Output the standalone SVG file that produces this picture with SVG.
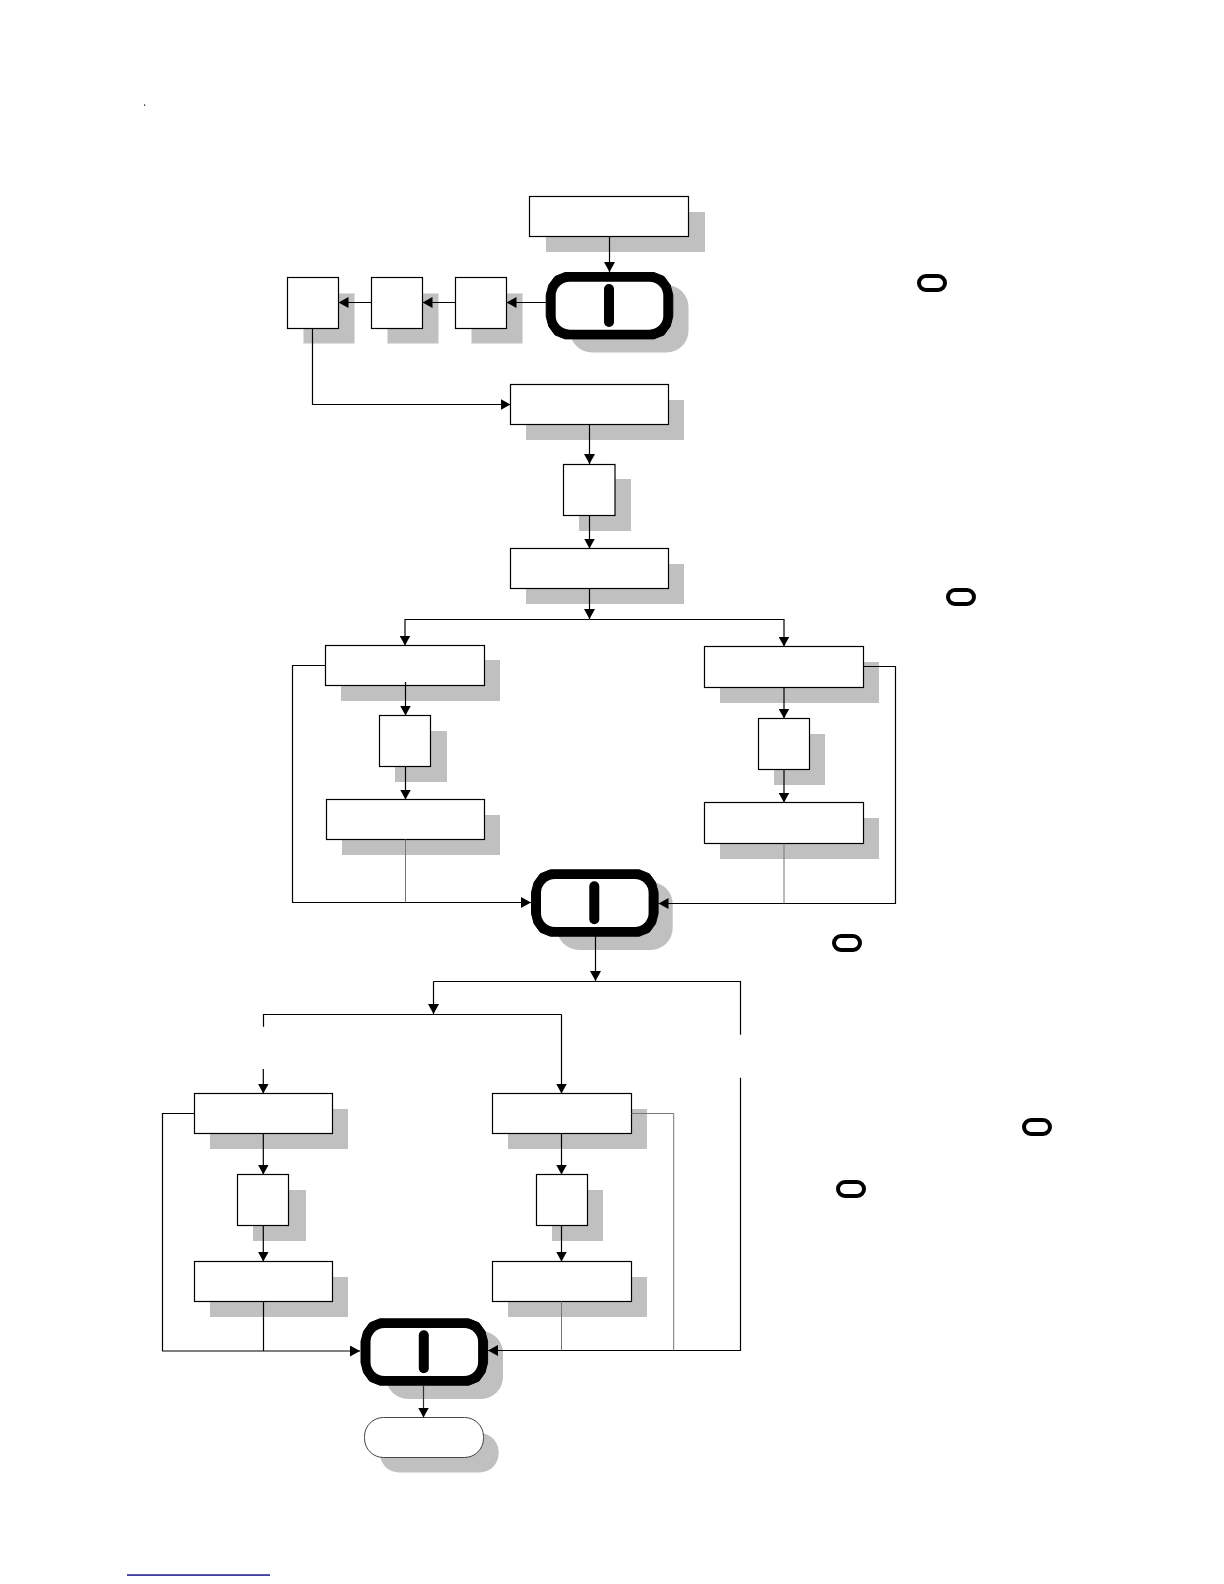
<svg xmlns="http://www.w3.org/2000/svg" width="1224" height="1584" viewBox="0 0 1224 1584">
<style>
.b{fill:#fff;stroke:#000;stroke-width:1.2}
.s{fill:#c0c0c0;stroke:none}
.c{fill:none;stroke:#000;stroke-width:1.2}
.g{fill:none;stroke:#777;stroke-width:1}
.m{fill:#000}
.a{fill:none;stroke:#000;stroke-width:4}
</style>
<defs>
<marker id="ar" markerUnits="userSpaceOnUse" markerWidth="11" markerHeight="11" refX="10" refY="5.500" orient="auto"><path d="M0 0L10 5.500L0 11Z" fill="#000"/></marker>
<g id="pill">
<path fill="#000" stroke="#000" stroke-linejoin="round" d="M19.300 0.500H108.300L118.300 4.500L124.500 13L127.100 23V44.400L124.500 54.400L118.300 62.900L108.300 66.900H19.300L9.300 62.900L3.100 54.400L0.500 44.400V23L3.100 13L9.300 4.500Z"/>
<rect x="10" y="9.700" width="107.600" height="48" rx="14" fill="#fff"/>
<rect x="58.300" y="12" width="10" height="43" rx="5" fill="#000"/>
</g>
</defs>
<rect id="page-line" x="127" y="1574.300" width="143" height="1.500" fill="#14148c"/>
<rect id="dot" x="144" y="104.500" width="1.200" height="1.200" fill="#000"/>
<g id="n1"><rect class="s" x="546" y="212" width="159" height="40"/><rect class="b" x="529.500" y="196.500" width="159" height="40"/></g>
<g id="p1"><rect class="s" x="570" y="285" width="118.500" height="67.500" rx="22"/><use href="#pill" x="545.700" y="272"/></g>
<g id="n2"><rect class="s" x="471.500" y="293.500" width="51" height="50"/><rect class="b" x="455.500" y="277.500" width="51" height="51"/></g>
<g id="n3"><rect class="s" x="387.500" y="293.500" width="51" height="50"/><rect class="b" x="371.500" y="277.500" width="51" height="51"/></g>
<g id="n4"><rect class="s" x="303.500" y="293.500" width="51" height="50"/><rect class="b" x="287.500" y="277.500" width="51" height="51"/></g>
<g id="n5"><rect class="s" x="526" y="400" width="158" height="40"/><rect class="b" x="510.500" y="384.500" width="158" height="40"/></g>
<g id="n6"><rect class="s" x="579" y="479" width="52" height="52"/><rect class="b" x="563.500" y="464.500" width="51.500" height="51"/></g>
<g id="n7"><rect class="s" x="526" y="564" width="158" height="40"/><rect class="b" x="510.500" y="548.500" width="158" height="40"/></g>
<g id="n8"><rect class="s" x="341" y="660" width="159" height="41"/><rect class="b" x="325.500" y="645.500" width="159" height="40"/></g>
<g id="n9"><rect class="s" x="395" y="731" width="52" height="51"/><rect class="b" x="379.500" y="715.500" width="51" height="51"/></g>
<g id="n10"><rect class="s" x="342" y="815" width="158" height="40"/><rect class="b" x="326.500" y="799.500" width="158" height="40"/></g>
<g id="n11"><rect class="s" x="720" y="662" width="159" height="41"/><rect class="b" x="704.500" y="646.500" width="159" height="41"/></g>
<g id="n12"><rect class="s" x="774" y="734" width="51" height="51"/><rect class="b" x="758.500" y="718.500" width="51" height="51"/></g>
<g id="n13"><rect class="s" x="720" y="818" width="159" height="41"/><rect class="b" x="704.500" y="802.500" width="159" height="41"/></g>
<g id="p2"><rect class="s" x="557" y="882" width="115.700" height="68" rx="22"/><use href="#pill" x="531" y="869.300"/></g>
<g id="n14"><rect class="s" x="210" y="1109" width="138" height="40"/><rect class="b" x="194.500" y="1093.500" width="138" height="40"/></g>
<g id="n15"><rect class="s" x="253" y="1190" width="53" height="51"/><rect class="b" x="237.500" y="1174.500" width="51" height="51"/></g>
<g id="n16"><rect class="s" x="210" y="1277" width="138" height="40"/><rect class="b" x="194.500" y="1261.500" width="138" height="40"/></g>
<g id="n17"><rect class="s" x="508" y="1109" width="139" height="40"/><rect class="b" x="492.500" y="1093.500" width="139" height="40"/></g>
<g id="n18"><rect class="s" x="552" y="1190" width="51" height="51"/><rect class="b" x="536.500" y="1174.500" width="51" height="51"/></g>
<g id="n19"><rect class="s" x="508" y="1277" width="139" height="40"/><rect class="b" x="492.500" y="1261.500" width="139" height="40"/></g>
<g id="p3"><rect class="s" x="386" y="1331" width="117" height="68" rx="22"/><use href="#pill" x="360.500" y="1318.300"/></g>
<g id="end"><rect class="s" x="380" y="1433" width="118.600" height="39.500" rx="19"/><rect x="364.500" y="1417.500" width="119" height="40" rx="19" fill="#fff" stroke="#444" stroke-width="1"/></g>
<g id="legend"><rect class="a" x="919" y="276" width="26" height="14" rx="7"/><rect class="a" x="948" y="590" width="26" height="14" rx="7"/><rect class="a" x="834" y="936" width="26" height="14" rx="7"/><rect class="a" x="1024" y="1120" width="26" height="14" rx="7"/><rect class="a" x="838" y="1182" width="26" height="14" rx="7"/></g>
<g id="connectors">
<path class="c" marker-end="url(#ar)" d="M609.500 236.500V272"/>
<path class="c" marker-end="url(#ar)" d="M546 302.500H506.500"/>
<path class="c" marker-end="url(#ar)" d="M455.500 302.500H422.500"/>
<path class="c" marker-end="url(#ar)" d="M371.500 302.500H338.500"/>
<path class="c" marker-end="url(#ar)" d="M312.500 328.500V404.500H510.500"/>
<path class="c" marker-end="url(#ar)" d="M589.500 424.500V464"/>
<path class="c" marker-end="url(#ar)" d="M589.500 516V548.500"/>
<path class="c" marker-end="url(#ar)" d="M589.500 588.500V619"/>
<path class="c" marker-end="url(#ar)" d="M589.500 619.500H405V645.500"/>
<path class="c" marker-end="url(#ar)" d="M589.500 619.500H784V646.500"/>
<path class="c" marker-end="url(#ar)" d="M405.500 682V715.500"/>
<path class="c" marker-end="url(#ar)" d="M405.500 766.500V799.500"/>
<path class="c" marker-end="url(#ar)" d="M784 687.500V718.500"/>
<path class="c" marker-end="url(#ar)" d="M784 769.500V802.500"/>
<path class="c" marker-end="url(#ar)" d="M325.500 665.500H292.500V902.500H531"/>
<path class="c" marker-end="url(#ar)" d="M863.500 666.500H895.500V903.500H658.500"/>
<path class="g" d="M405.500 839.500V902.500"/>
<path class="g" d="M784 843.500V903.500"/>
<path class="c" marker-end="url(#ar)" d="M595.500 936V981"/>
<path class="c" d="M740.500 1034.700V981.500H433.500"/>
<path class="c" marker-end="url(#ar)" d="M433.500 981.500V1014"/>
<path class="c" d="M263.500 1026.700V1014.500H561.500"/>
<path class="c" marker-end="url(#ar)" d="M263.300 1069V1093.500"/>
<path class="c" marker-end="url(#ar)" d="M561.500 1014.500V1093.500"/>
<path class="c" marker-end="url(#ar)" d="M263.300 1133.500V1174.500"/>
<path class="c" marker-end="url(#ar)" d="M263.300 1225.500V1261.500"/>
<path class="c" marker-end="url(#ar)" d="M561.500 1133.500V1174.500"/>
<path class="c" marker-end="url(#ar)" d="M561.500 1225.500V1261.500"/>
<path class="c" marker-end="url(#ar)" d="M194.500 1113.500H162.500V1351H360"/>
<path class="c" d="M263.500 1301.500V1351"/>
<path class="c" marker-end="url(#ar)" d="M740.500 1077.700V1350.500H488"/>
<path class="g" d="M561.500 1301.500V1350.500"/>
<path class="g" d="M631.500 1113.500H673.700V1350.500"/>
<path class="c" marker-end="url(#ar)" style="stroke:#333" d="M423.500 1385.700V1417.500"/>
</g>
</svg>
